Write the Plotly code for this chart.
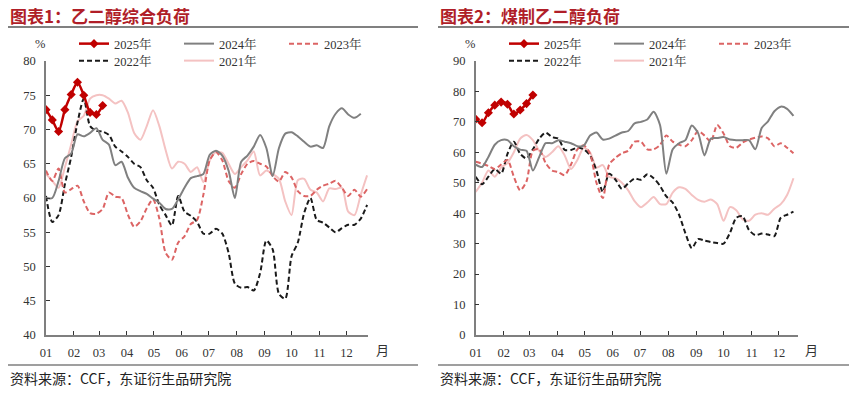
import plotly.graph_objects as go
import pandas as pd

# ---------------- data (weekly) ----------------
series_names = ["2025年", "2024年", "2023年", "2022年", "2021年"]

# 图表1 乙二醇综合负荷 (%)
left_2025 = [72.9, 71.4, 69.7, 72.9, 75.1, 76.9, 75.0, 72.5, 72.2, 73.5]
left_2024 = [60.0, 60.0, 62.5, 65.8, 66.5, 69.3, 69.0, 69.5, 70.2, 68.5, 67.8, 64.8, 65.3, 63.0,
             61.5, 61.0, 60.6, 59.9, 59.3, 58.4, 58.4, 59.8, 61.5, 62.9, 63.2, 63.5, 66.3, 66.9,
             66.2, 64.0, 60.0, 65.3, 66.2, 67.5, 69.2, 67.3, 63.2, 67.3, 69.4, 69.6, 69.0, 68.2,
             67.5, 67.7, 67.3, 70.5, 72.3, 73.1, 72.2, 71.7, 72.3]
left_2023 = [64.0, 62.5, 64.3, 60.8, 61.3, 61.8, 59.5, 57.8, 57.7, 58.4, 60.8, 60.2, 60.0, 57.6,
             55.8, 56.6, 58.5, 59.8, 57.0, 52.0, 51.0, 53.5, 54.4, 56.2, 56.8, 60.5, 65.5, 66.7,
             65.5, 62.5, 61.5, 63.5, 65.0, 65.4, 65.0, 64.6, 63.2, 62.4, 63.8, 63.0, 61.0, 60.3,
             60.3, 61.2, 61.8, 62.1, 62.5, 61.5, 60.3, 61.2, 60.2, 61.3]
left_2022 = [60.3, 56.5, 57.5, 62.0, 66.0, 71.0, 74.5, 70.5, 69.8, 69.7, 69.2, 67.5, 66.8, 66.0,
             65.0, 64.5, 62.6, 61.5, 59.0, 57.5, 56.0, 60.3, 58.0, 57.4, 56.5, 54.8, 54.8, 55.5,
             54.8, 52.0, 47.5, 46.9, 47.0, 46.5, 49.0, 53.8, 52.5, 46.0, 45.3, 51.5, 53.5, 57.8,
             60.0, 56.8, 56.4, 55.7, 55.0, 55.6, 56.1, 56.1, 57.0, 59.0]
left_2021 = [63.5, 62.5, 61.5, 64.5, 67.8, 71.2, 72.0, 74.5, 75.0, 75.0, 74.5, 73.8, 74.2, 72.5,
             69.5, 68.5, 70.5, 72.8, 70.5, 67.0, 64.3, 65.3, 65.0, 63.8, 64.5, 62.3, 65.5, 66.7,
             66.6, 65.0, 63.5, 64.5, 65.5, 66.8, 63.3, 64.0, 63.5, 62.8, 59.5, 57.5, 62.6, 62.8,
             61.2, 60.8, 59.5, 61.4, 61.3, 61.5, 58.0, 57.5, 60.5, 63.3]

# 图表2 煤制乙二醇负荷 (%)
right_2025 = [70.9, 69.7, 73.0, 75.5, 76.5, 75.8, 72.6, 73.9, 76.0, 78.8]
right_2024 = [56.0, 55.2, 58.5, 62.5, 64.0, 64.0, 62.0, 60.9, 60.5, 54.0, 58.5, 63.0, 63.0, 64.0,
              63.5, 63.0, 62.0, 62.2, 65.5, 66.5, 64.2, 64.5, 65.5, 66.5, 67.0, 69.5, 70.0, 70.8,
              73.3, 69.0, 53.0, 61.0, 63.0, 64.0, 68.8, 66.3, 59.0, 64.5, 64.7, 65.0, 64.2, 64.0,
              64.0, 64.0, 61.0, 68.0, 70.2, 73.5, 75.0, 74.3, 72.0]
right_2023 = [56.9, 56.3, 55.5, 54.5, 56.0, 57.5, 52.0, 47.5, 50.5, 60.5, 61.0, 56.5, 54.0, 53.5,
              52.5, 56.0, 61.0, 62.3, 59.5, 50.0, 45.0, 56.0, 58.2, 59.7, 60.5, 63.5, 63.5, 61.0,
              61.0, 62.4, 65.5, 63.5, 62.5, 62.0, 64.0, 67.0, 65.5, 63.5, 69.0, 66.2, 62.0, 61.5,
              63.2, 64.2, 64.8, 65.2, 64.6, 62.0, 63.0, 61.5, 59.7]
right_2022 = [52.0, 49.5, 52.0, 54.5, 53.0, 59.5, 63.5, 59.5, 58.0, 61.0, 64.5, 66.5, 65.0, 64.5,
              60.8, 60.8, 61.5, 61.0, 59.0, 54.0, 47.0, 53.0, 51.0, 48.0, 49.8, 51.4, 51.0, 52.8,
              51.5, 49.0, 45.5, 43.5, 39.5, 33.4, 28.5, 31.5, 31.0, 30.5, 30.2, 30.0, 33.5, 38.5,
              39.0, 34.5, 32.8, 33.3, 33.0, 32.5, 38.5, 39.5, 40.5]
right_2021 = [47.0, 50.0, 54.0, 52.0, 55.0, 56.5, 60.0, 64.5, 65.7, 64.0, 60.5, 58.5, 60.0, 62.0,
              59.0, 54.5, 57.5, 61.5, 60.0, 55.0, 55.8, 52.0, 51.5, 50.0, 47.5, 44.0, 42.0, 43.5,
              45.3, 43.0, 43.0, 46.8, 48.5, 48.0, 46.0, 44.4, 43.8, 44.5, 43.0, 37.5, 42.0, 41.0,
              38.0, 37.5, 39.5, 40.0, 39.5, 41.5, 43.0, 46.0, 51.5]

left_yticks = [40, 45, 50, 55, 60, 65, 70, 75, 80]
right_yticks = [0, 10, 20, 30, 40, 50, 60, 70, 80, 90]

# ---------------- styling ----------------
W, H = 859, 394
SERIF = "Liberation Serif, Times New Roman, Noto Serif CJK SC, Noto Sans CJK SC, serif"
CJK = "Noto Sans CJK SC, sans-serif"
styles = {
    "2025年": dict(color="#C00000", width=2.5, dash="solid"),
    "2024年": dict(color="#808080", width=2, dash="solid"),
    "2023年": dict(color="#DC6464", width=2, dash="5px,3px"),
    "2022年": dict(color="#1A1A1A", width=2, dash="5px,3px"),
    "2021年": dict(color="#F4C2C2", width=2, dash="solid"),
}


def week_dates(n):
    return pd.date_range("2001-01-01", periods=n, freq="7D")


def px_x(p):
    return p / W


def px_y(p):
    return 1 - p / H


fig = go.Figure()

panels = [
    ("x", "y", [left_2025, left_2024, left_2023, left_2022, left_2021], ("legend", "legend2")),
    ("x2", "y2", [right_2025, right_2024, right_2023, right_2022, right_2021], ("legend3", "legend4")),
]

draw_order = ["2021年", "2022年", "2023年", "2024年", "2025年"]
for xa, ya, data, legs in panels:
    d = dict(zip(series_names, data))
    for name in draw_order:
        vals = d[name]
        st = styles[name]
        leg = legs[0] if name in ("2025年", "2024年", "2023年") else legs[1]
        mode = "lines+markers" if name == "2025年" else "lines"
        fig.add_trace(go.Scatter(
            x=week_dates(len(vals)), y=vals, name=name, mode=mode,
            xaxis=xa, yaxis=ya, legend=leg,
            legendrank=series_names.index(name) + 1,
            line=dict(color=st["color"], width=st["width"], dash=st["dash"],
                      shape="spline", smoothing=0.7),
            marker=dict(symbol="diamond", size=7, color=st["color"]),
            hoverinfo="skip",
        ))

axis_common = dict(showgrid=False, zeroline=False, showline=True, linecolor="#7F7F7F",
                   linewidth=1.5, ticks="inside", ticklen=4, tickcolor="#333333",
                   tickwidth=1, tickfont=dict(family=SERIF, size=12.5, color="#333333"))

fig.update_layout(
    width=W, height=H, margin=dict(l=0, r=0, t=0, b=0, autoexpand=False),
    paper_bgcolor="white", plot_bgcolor="white", showlegend=True,
    xaxis=dict(domain=[px_x(46), px_x(368)], type="date",
               range=["2001-01-01", "2001-12-25"], dtick="M1", tick0="2001-01-01",
               tickformat="%m", anchor="y", ticklabelstandoff=5, **axis_common),
    yaxis=dict(domain=[px_y(335), px_y(61)], range=[40, 80], tickvals=left_yticks,
               anchor="x", ticklabelstandoff=6, **axis_common),
    xaxis2=dict(domain=[px_x(475.7), px_x(798)], type="date",
                range=["2001-01-01", "2001-12-22"], dtick="M1", tick0="2001-01-01",
                tickformat="%m", anchor="y2", ticklabelstandoff=5, **axis_common),
    yaxis2=dict(domain=[px_y(335), px_y(61)], range=[0, 90], tickvals=right_yticks,
                anchor="x2", ticklabelstandoff=6, **axis_common),
)

leg_common = dict(orientation="h", xanchor="left", yanchor="middle",
                  font=dict(family=SERIF, size=12.5, color="#333333"),
                  bgcolor="rgba(0,0,0,0)", entrywidth=60, entrywidthmode="pixels",
                  tracegroupgap=0, itemclick=False, itemdoubleclick=False)
fig.update_layout(
    legend=dict(x=px_x(74), y=px_y(44), **leg_common),
    legend2=dict(x=px_x(74), y=px_y(61), **leg_common),
    legend3=dict(x=px_x(504), y=px_y(44), **leg_common),
    legend4=dict(x=px_x(504), y=px_y(61), **leg_common),
)

annotations = []
shapes = []
for x0, x1, title in [(8, 418, "图表1：乙二醇综合负荷"), (438, 849, "图表2：煤制乙二醇负荷")]:
    annotations.append(dict(x=px_x(x0), y=px_y(15.5), xref="paper", yref="paper",
                            text="<b>" + title + "</b>", showarrow=False, xanchor="left",
                            yanchor="middle",
                            font=dict(family=CJK, size=17, color="#B01E28")))
    annotations.append(dict(x=px_x(x0), y=px_y(378), xref="paper", yref="paper",
                            text="资料来源：CCF，东证衍生品研究院", showarrow=False,
                            xanchor="left", yanchor="middle",
                            font=dict(family=CJK, size=14, color="#222222")))
    shapes.append(dict(type="line", xref="paper", yref="paper", x0=px_x(x0), x1=px_x(x1),
                       y0=px_y(27), y1=px_y(27), line=dict(color="#808080", width=2)))
    shapes.append(dict(type="line", xref="paper", yref="paper", x0=px_x(x0), x1=px_x(x1),
                       y0=px_y(365), y1=px_y(365), line=dict(color="#404040", width=1.2)))

for xc, yc in [(40, 44), (470, 44)]:
    annotations.append(dict(x=px_x(xc), y=px_y(yc), xref="paper", yref="paper", text="%",
                            showarrow=False, xanchor="center", yanchor="middle",
                            font=dict(family=SERIF, size=12.5, color="#333333")))
for xc in (382, 811):
    annotations.append(dict(x=px_x(xc), y=px_y(349), xref="paper", yref="paper", text="月",
                            showarrow=False, xanchor="center", yanchor="middle",
                            font=dict(family=CJK, size=13, color="#333333")))

fig.update_layout(annotations=annotations, shapes=shapes)
# remove the default 8px page margin so the figure sits at the window's top-left corner
fig.write_html("out.html", config={"displayModeBar": False},
               post_script="document.body.style.margin='0';")
